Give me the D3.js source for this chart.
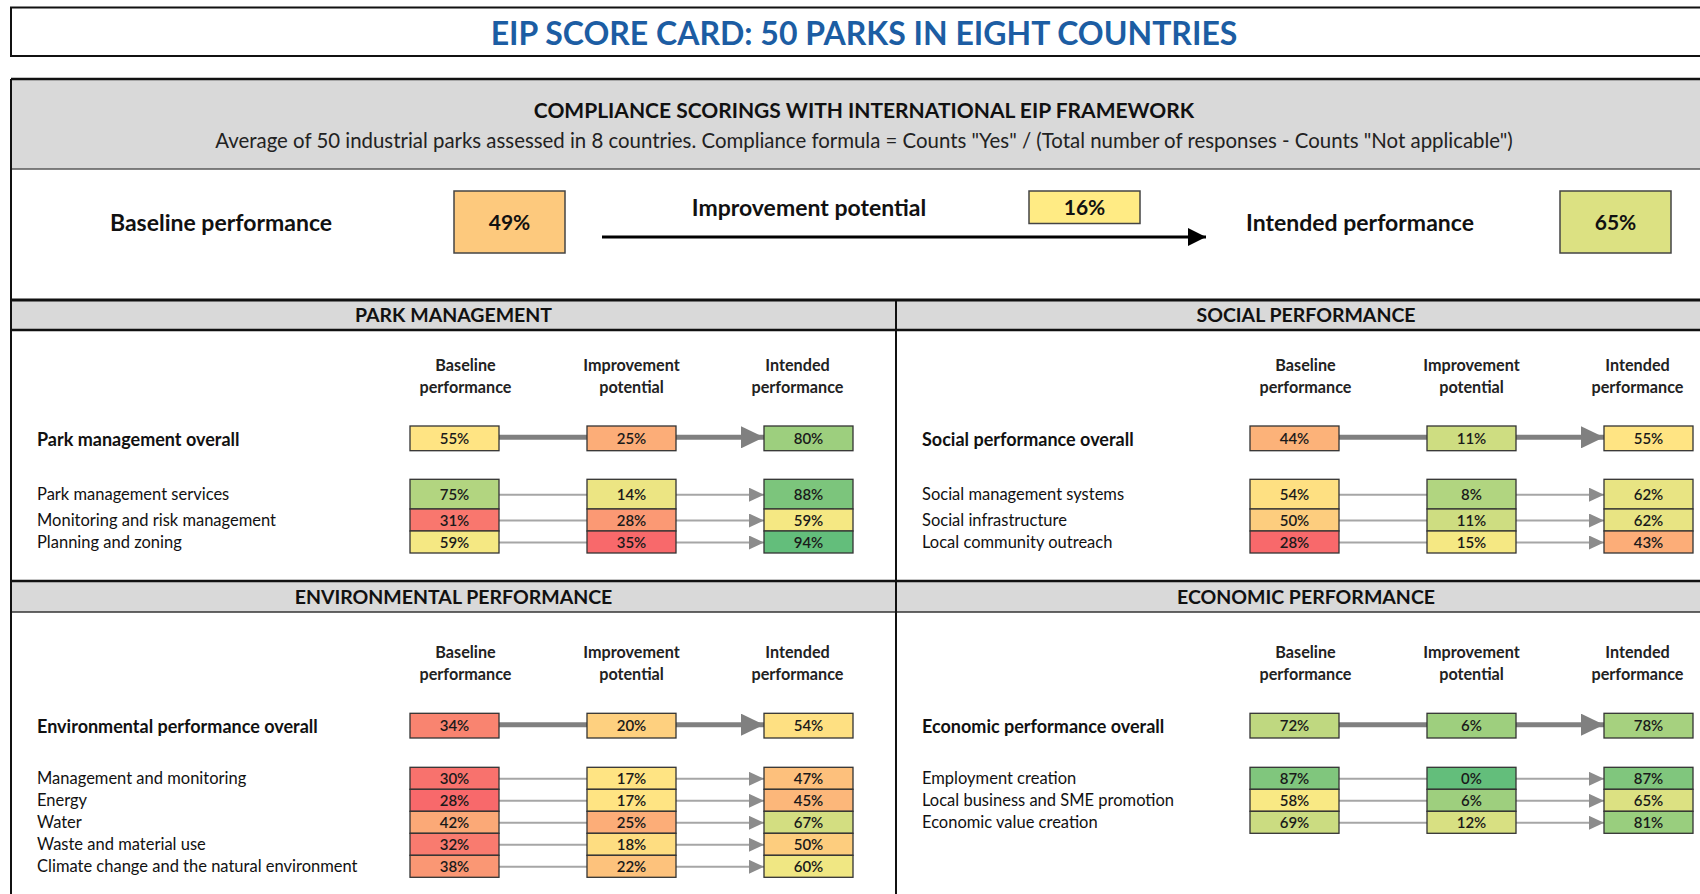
<!DOCTYPE html>
<html>
<head>
<meta charset="utf-8">
<script src="https://cdn.jsdelivr.net/npm/d3@7"></script>
<style>
  body { margin: 0; background: #fff; overflow: hidden; }
  svg { display: block; font-family: Lato, "Open Sans", sans-serif; }
</style>
</head>
<body>
<div id="card"></div>
<script>
// ---- data ----
const cardTitle = "EIP SCORE CARD: 50 PARKS IN EIGHT COUNTRIES";
const frameworkTitle = "COMPLIANCE SCORINGS WITH INTERNATIONAL EIP FRAMEWORK";
const frameworkNote = 'Average of 50 industrial parks assessed in 8 countries. Compliance formula = Counts "Yes" / (Total number of responses - Counts "Not applicable")';

const headlineLabels = ["Baseline performance", "Improvement potential", "Intended performance"];
const headlineValues = [49, 16, 65];

const columnHeaders = [["Baseline", "performance"], ["Improvement", "potential"], ["Intended", "performance"]];
const columnKeys = ["baseline", "improvement", "intended"];

const sectionNames = ["PARK MANAGEMENT", "SOCIAL PERFORMANCE", "ENVIRONMENTAL PERFORMANCE", "ECONOMIC PERFORMANCE"];
const overallLabels = ["Park management overall", "Social performance overall", "Environmental performance overall", "Economic performance overall"];
const overallBaseline = [55, 44, 34, 72];
const overallImprovement = [25, 11, 20, 6];
const overallIntended = [80, 55, 54, 78];

const parkItems = ["Park management services", "Monitoring and risk management", "Planning and zoning"];
const parkBaseline = [75, 31, 59];
const parkImprovement = [14, 28, 35];
const parkIntended = [88, 59, 94];

const socialItems = ["Social management systems", "Social infrastructure", "Local community outreach"];
const socialBaseline = [54, 50, 28];
const socialImprovement = [8, 11, 15];
const socialIntended = [62, 62, 43];

const envItems = ["Management and monitoring", "Energy", "Water", "Waste and material use", "Climate change and the natural environment"];
const envBaseline = [30, 28, 42, 32, 38];
const envImprovement = [17, 17, 25, 18, 22];
const envIntended = [47, 45, 67, 50, 60];

const econItems = ["Employment creation", "Local business and SME promotion", "Economic value creation"];
const econBaseline = [87, 58, 69];
const econImprovement = [0, 6, 12];
const econIntended = [87, 65, 81];

// ---- colour scales (Excel style 3-colour scale) ----
const perfValues = [headlineValues[0], headlineValues[2]].concat(
  overallBaseline, overallIntended, parkBaseline, parkIntended, socialBaseline, socialIntended,
  envBaseline, envIntended, econBaseline, econIntended);
const gapValues = [headlineValues[1]].concat(overallImprovement, parkImprovement, socialImprovement, envImprovement, econImprovement);

const perfColor = d3.scaleLinear()
  .domain([d3.min(perfValues), d3.median(perfValues), d3.max(perfValues)])
  .range(["#F8696B", "#FFEB84", "#63BE7B"]);
const gapColor = d3.scaleLinear()
  .domain([d3.min(gapValues), d3.median(gapValues), d3.max(gapValues)])
  .range(["#63BE7B", "#FFEB84", "#F8696B"]);
const colorFor = (key, v) => key === "improvement" ? gapColor(v) : perfColor(v);

const W = 1700, H = 894;
const svg = d3.select("#card").append("svg").attr("width", W).attr("height", H);

const defs = svg.append("defs");
const fmt = v => v + "%";

// ---- title ----
svg.append("rect").attr("x", 11).attr("y", 7.5).attr("width", 1720).attr("height", 48.5)
  .attr("fill", "#fff").attr("stroke", "#111").attr("stroke-width", 2);
svg.append("text").attr("x", 864).attr("y", 45).attr("text-anchor", "middle")
  .attr("font-size", 32).attr("font-weight", "bold").attr("fill", "#1C5DA3")
  .text(cardTitle);

// ---- framework block ----
svg.append("rect").attr("x", 11).attr("y", 79).attr("width", 1720).attr("height", 90).attr("fill", "#D9D9D9");
svg.append("line").attr("x1", 11).attr("x2", 1720).attr("y1", 169).attr("y2", 169).attr("stroke", "#595959").attr("stroke-width", 1.5);
svg.append("line").attr("x1", 11).attr("x2", 1720).attr("y1", 79).attr("y2", 79).attr("stroke", "#111").attr("stroke-width", 2.5);

svg.append("text").attr("x", 864).attr("y", 118).attr("text-anchor", "middle")
  .attr("font-size", 21).attr("font-weight", "bold").attr("fill", "#111").text(frameworkTitle);
svg.append("text").attr("x", 864).attr("y", 148).attr("text-anchor", "middle")
  .attr("font-size", 20.4).attr("fill", "#222").text(frameworkNote);

// headline row
const headX = d3.scaleOrdinal().domain(columnKeys).range([221, 809, 1360]);
const headBoxX = d3.scaleOrdinal().domain(columnKeys).range([454, 1029, 1560]);
const headBaseline = d3.scaleOrdinal().domain(columnKeys).range([231, 216, 231]);
const headBoxH = d3.scaleOrdinal().domain(columnKeys).range([62, 32.5, 62]);

const head = svg.append("g").selectAll("g").data(columnKeys.map((k, i) => ({key: k, label: headlineLabels[i], value: headlineValues[i]})))
  .join("g");
head.append("text").attr("x", d => headX(d.key)).attr("y", d => headBaseline(d.key))
  .attr("text-anchor", "middle").attr("font-size", 23).attr("font-weight", "bold").attr("fill", "#111")
  .text(d => d.label);
head.append("rect").attr("x", d => headBoxX(d.key)).attr("y", 191).attr("width", 111).attr("height", d => headBoxH(d.key))
  .attr("fill", d => colorFor(d.key, d.value)).attr("stroke", "#444").attr("stroke-width", 1.5);
head.append("text").attr("x", d => headBoxX(d.key) + 55.5).attr("y", d => 191 + headBoxH(d.key) / 2 + 7.5)
  .attr("text-anchor", "middle").attr("font-size", 21).attr("font-weight", "bold").attr("fill", "#111")
  .text(d => fmt(d.value));

// big arrow
defs.append("marker").attr("id", "bigHead").attr("viewBox", "0 0 18 18").attr("refX", 18).attr("refY", 9)
  .attr("markerWidth", 18).attr("markerHeight", 18).attr("markerUnits", "userSpaceOnUse").attr("orient", "auto")
  .append("path").attr("d", "M0,0L18,9L0,18Z").attr("fill", "#000");
svg.append("line").attr("x1", 602).attr("x2", 1206).attr("y1", 237).attr("y2", 237)
  .attr("stroke", "#000").attr("stroke-width", 3).attr("marker-end", "url(#bigHead)");

// arrow markers for the sections
defs.append("marker").attr("id", "thickHead").attr("viewBox", "0 0 23 22").attr("refX", 23).attr("refY", 11)
  .attr("markerWidth", 23).attr("markerHeight", 22).attr("markerUnits", "userSpaceOnUse").attr("orient", "auto")
  .append("path").attr("d", "M0,0L23,11L0,22Z").attr("fill", "#808080");
defs.append("marker").attr("id", "thinHead").attr("viewBox", "0 0 15 14").attr("refX", 15).attr("refY", 7)
  .attr("markerWidth", 15).attr("markerHeight", 14).attr("markerUnits", "userSpaceOnUse").attr("orient", "auto")
  .append("path").attr("d", "M0,0L15,7L0,14Z").attr("fill", "#8C8C8C");

// ---- section bands ----
function band(y0, y1, topW, botW, botColor) {
  svg.append("rect").attr("x", 11).attr("y", y0).attr("width", 1720).attr("height", y1 - y0).attr("fill", "#D9D9D9");
  svg.append("line").attr("x1", 11).attr("x2", 1720).attr("y1", y0).attr("y2", y0).attr("stroke", "#111").attr("stroke-width", topW);
  svg.append("line").attr("x1", 11).attr("x2", 1720).attr("y1", y1).attr("y2", y1).attr("stroke", botColor).attr("stroke-width", botW);
}
band(300, 330, 3, 2.5, "#111");
band(581, 612, 2.5, 1.5, "#333");
svg.append("line").attr("x1", 896).attr("x2", 896).attr("y1", 300).attr("y2", H).attr("stroke", "#111").attr("stroke-width", 2);
svg.append("line").attr("x1", 11).attr("x2", 11).attr("y1", 79).attr("y2", H).attr("stroke", "#111").attr("stroke-width", 2);

const sections = [
  {name: sectionNames[0], overall: overallLabels[0], ob: overallBaseline[0], oi: overallImprovement[0], on: overallIntended[0],
   items: parkItems, b: parkBaseline, i: parkImprovement, n: parkIntended,
   x0: 11, x1: 896, headY: 315, colY: 365, overallY: 426, subTop: 479.3, rowH: [29.7, 22, 22]},
  {name: sectionNames[1], overall: overallLabels[1], ob: overallBaseline[1], oi: overallImprovement[1], on: overallIntended[1],
   items: socialItems, b: socialBaseline, i: socialImprovement, n: socialIntended,
   x0: 896, x1: 1716, headY: 315, colY: 365, overallY: 426, subTop: 479.3, rowH: [29.7, 22, 22]},
  {name: sectionNames[2], overall: overallLabels[2], ob: overallBaseline[2], oi: overallImprovement[2], on: overallIntended[2],
   items: envItems, b: envBaseline, i: envImprovement, n: envIntended,
   x0: 11, x1: 896, headY: 597, colY: 652, overallY: 713.3, subTop: 767.3, rowH: [22, 22, 22, 22, 22]},
  {name: sectionNames[3], overall: overallLabels[3], ob: overallBaseline[3], oi: overallImprovement[3], on: overallIntended[3],
   items: econItems, b: econBaseline, i: econImprovement, n: econIntended,
   x0: 896, x1: 1716, headY: 597, colY: 652, overallY: 713.3, subTop: 767.3, rowH: [22, 22, 22]}
];

const BOX_W = 89;

sections.forEach(s => {
  const g = svg.append("g");
  const mid = s.x0 === 11 ? 631.5 : 1471.5;
  const x = d3.scalePoint().domain(columnKeys).range([mid - 177, mid + 177]);
  const hx = d3.scalePoint().domain(columnKeys).range([mid - 166, mid + 166]);
  const labelX = s.x0 + 26;

  g.append("text").attr("x", (s.x0 + s.x1) / 2).attr("y", s.headY + 7).attr("text-anchor", "middle")
    .attr("font-size", 19.5).attr("font-weight", "bold").attr("fill", "#111").text(s.name);

  // column headers
  columnKeys.forEach((k, ci) => {
    const t = g.append("text").attr("text-anchor", "middle").attr("font-size", 16.2).attr("font-weight", "bold").attr("fill", "#222");
    columnHeaders[ci].forEach((line, li) => {
      t.append("tspan").attr("x", hx(k)).attr("y", s.colY + 5.5 + li * 22).text(line);
    });
  });

  // rows: overall + items
  const offsets = Array.from(d3.cumsum([0].concat(s.rowH))).slice(0, s.rowH.length);
  const tops = [s.overallY].concat(offsets.map(v => s.subTop + v));
  const heights = [24.7].concat(s.rowH);
  const rows = [{label: s.overall, bold: true, vals: [s.ob, s.oi, s.on]}]
    .concat(s.items.map((it, k) => ({label: it, bold: false, vals: [s.b[k], s.i[k], s.n[k]]})));
  rows.forEach((r, ri) => {
    r.top = tops[ri];
    r.h = heights[ri];
    r.cy = r.top + r.h / 2;
  });

  // connectors
  rows.forEach(r => {
    const thick = r.bold;
    const yy = r.cy + (thick ? -1 : 0.5);
    const style = sel => sel.attr("stroke", thick ? "#808080" : "#A6A6A6").attr("stroke-width", thick ? 5 : 2);
    g.append("line").attr("x1", x("baseline") + BOX_W / 2).attr("x2", x("improvement") - BOX_W / 2)
      .attr("y1", yy).attr("y2", yy).call(style);
    g.append("line").attr("x1", x("improvement") + BOX_W / 2).attr("x2", x("intended") - BOX_W / 2)
      .attr("y1", yy).attr("y2", yy).call(style)
      .attr("marker-end", thick ? "url(#thickHead)" : "url(#thinHead)");
  });

  // labels
  g.selectAll("text.lbl").data(rows).join("text").attr("class", "lbl")
    .attr("x", labelX).attr("y", d => d.cy + (d.bold ? 7.5 : 6))
    .attr("font-size", d => d.bold ? 18 : 16.5).attr("font-weight", d => d.bold ? "bold" : "normal")
    .attr("fill", "#111").text(d => d.label);

  // cells
  const cells = rows.flatMap(r => columnKeys.map((k, ci) => ({key: k, v: r.vals[ci], top: r.top, h: r.h, cy: r.cy})));
  g.selectAll("rect.cell").data(cells).join("rect").attr("class", "cell")
    .attr("x", d => x(d.key) - BOX_W / 2).attr("y", d => d.top).attr("width", BOX_W).attr("height", d => d.h)
    .attr("fill", d => colorFor(d.key, d.v)).attr("stroke", "#333").attr("stroke-width", 1.3);
  g.selectAll("text.val").data(cells).join("text").attr("class", "val")
    .attr("x", d => x(d.key)).attr("y", d => d.cy + 5.5).attr("text-anchor", "middle")
    .attr("font-size", 15).attr("font-weight", 600).attr("fill", "#1a1a1a").text(d => fmt(d.v));
});
</script>
</body>
</html>
